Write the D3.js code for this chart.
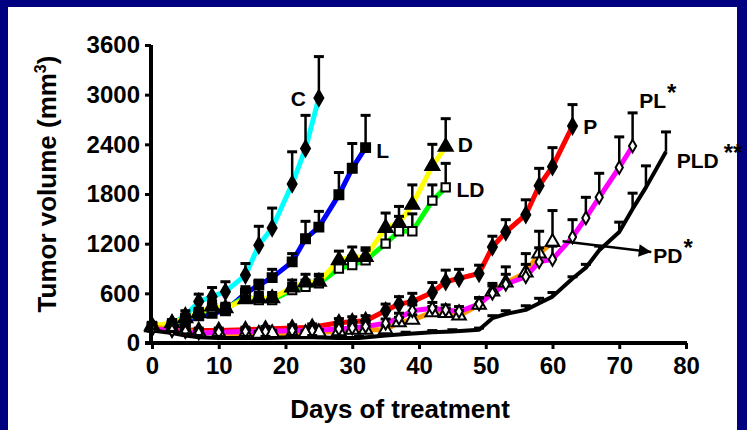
<!DOCTYPE html>
<html>
<head>
<meta charset="utf-8">
<script src="https://cdn.jsdelivr.net/npm/d3@7"></script>
<style>
  html, body { margin: 0; padding: 0; background: #fff; }
  svg { display: block; font-family: Arial, "Liberation Sans", sans-serif; font-weight: bold; }
</style>
</head>
<body>
<div id="chart"></div>
<script>
// tumor growth per treatment group: day, mean volume (mm3), upper SEM
var days_C = [0, 3, 5, 7, 9, 11, 14, 16, 18, 21, 23, 25];
var vol_C  = [200, 230, 330, 500, 560, 620, 820, 1180, 1390, 1920, 2350, 2960];
var err_C  = [40, 50, 60, 90, 110, 120, 140, 230, 240, 390, 400, 500];

var days_L = [0, 3, 5, 7, 9, 11, 14, 16, 18, 21, 23, 25, 28, 30, 32];
var vol_L  = [190, 210, 260, 330, 360, 390, 600, 700, 790, 980, 1260, 1400, 1790, 2110, 2360];
var err_L  = [40, 40, 50, 60, 60, 70, 80, 60, 100, 100, 210, 190, 270, 300, 390];

var days_D = [0, 3, 5, 7, 9, 11, 14, 16, 18, 21, 23, 25, 28, 30, 32, 35, 37, 39, 42, 44];
var vol_D  = [210, 240, 300, 360, 440, 420, 530, 540, 540, 670, 730, 740, 1000, 1040, 1040, 1390, 1450, 1670, 2140, 2370];
var err_D  = [40, 40, 50, 60, 70, 60, 80, 70, 70, 90, 100, 90, 110, 120, 110, 180, 200, 240, 260, 340];

var days_LD = [0, 3, 5, 7, 9, 11, 14, 16, 18, 21, 23, 25, 28, 30, 32, 35, 37, 39, 42, 44];
var vol_LD  = [200, 230, 290, 350, 420, 410, 560, 520, 520, 640, 680, 720, 900, 940, 1000, 1200, 1350, 1350, 1720, 1880];
var err_LD  = [40, 40, 50, 60, 60, 60, 70, 70, 70, 80, 80, 90, 90, 110, 120, 150, 180, 210, 190, 290];

var days_P = [0, 3, 5, 7, 10, 14, 17, 21, 24, 28, 30, 32, 35, 37, 39, 42, 44, 46, 49, 51, 53, 56, 58, 60, 63];
var vol_P  = [180, 170, 160, 150, 150, 160, 170, 180, 190, 245, 257, 270, 390, 470, 500, 610, 740, 780, 840, 1160, 1340, 1550, 1900, 2130, 2620];
var err_P  = [30, 30, 30, 30, 30, 30, 30, 40, 40, 50, 60, 60, 80, 90, 100, 120, 140, 110, 100, 130, 150, 180, 210, 230, 260];

var days_PL = [0, 3, 5, 7, 10, 14, 17, 21, 24, 28, 30, 32, 35, 37, 39, 42, 44, 46, 49, 51, 53, 56, 58, 60, 63, 65, 67, 70, 72];
var vol_PL  = [170, 150, 140, 120, 130, 140, 140, 150, 150, 170, 180, 200, 240, 300, 390, 420, 400, 380, 470, 600, 710, 800, 980, 1010, 1280, 1510, 1760, 2120, 2380];
var err_PL  = [30, 30, 30, 30, 30, 30, 30, 30, 30, 40, 40, 40, 50, 60, 70, 70, 60, 60, 80, 90, 120, 150, 170, 160, 210, 250, 290, 370, 400];

var days_PD = [0, 3, 5, 7, 10, 14, 16, 18, 21, 23, 25, 28, 30, 32, 35, 37, 39, 42, 44, 46, 49, 51, 53, 56, 58, 60];
var vol_PD  = [190, 170, 150, 130, 120, 110, 110, 120, 110, 120, 130, 140, 160, 160, 160, 250, 280, 370, 360, 330, 460, 620, 730, 850, 1080, 1220];
var err_PD  = [30, 30, 30, 30, 30, 30, 30, 30, 30, 30, 30, 40, 40, 40, 50, 60, 60, 70, 60, 60, 80, 100, 190, 230, 270, 380];

var days_PLD = [0, 3, 5, 7, 10, 14, 17, 21, 24, 28, 31, 35, 38, 42, 45, 49, 51, 53, 56, 58, 60, 63, 65, 67, 70, 72, 74, 77];
var vol_PLD  = [150, 120, 90, 70, 60, 60, 60, 70, 70, 60, 60, 90, 110, 130, 140, 160, 300, 350, 400, 480, 560, 780, 910, 1120, 1340, 1620, 1880, 2310];
var err_PLD  = [20, 20, 20, 20, 20, 20, 20, 20, 20, 20, 20, 20, 20, 20, 20, 20, 30, 40, 50, 60, 50, 20, 40, 50, 120, 190, 260, 240];

var xTicks = [0, 10, 20, 30, 40, 50, 60, 70, 80];
var yTicks = [0, 600, 1200, 1800, 2400, 3000, 3600];

function zip(days, vol, err) {
  return days.map(function(d, i) { return {day: d, v: vol[i], e: err[i]}; });
}

// series: data, line colour, marker
var series = [
  {name: "C",  data: zip(days_C, vol_C, err_C),    color: "#00ffff", sym: d3.symbolDiamond, size: 70, fill: "#000"},
  {name: "L",  data: zip(days_L, vol_L, err_L),    color: "#0000ff", sym: d3.symbolSquare,  size: 80, fill: "#000"},
  {name: "LD", data: zip(days_LD, vol_LD, err_LD), color: "#00ff00", sym: d3.symbolSquare,  size: 70, fill: "#fff"},
  {name: "D",  data: zip(days_D, vol_D, err_D),    color: "#ffff00", sym: d3.symbolTriangle, size: 85, fill: "#000"},
  {name: "P",  data: zip(days_P, vol_P, err_P),    color: "#ff0000", sym: d3.symbolDiamond, size: 70, fill: "#000"},
  {name: "PD", data: zip(days_PD, vol_PD, err_PD), color: "#ff9900", sym: d3.symbolTriangle, size: 80, fill: "#fff"},
  {name: "PL", data: zip(days_PL, vol_PL, err_PL), color: "#ff00ff", sym: d3.symbolDiamond, size: 45, fill: "#fff"},
  {name: "PLD", data: zip(days_PLD, vol_PLD, err_PLD), color: "#000000", sym: null, size: 0, fill: "#000"}
];

var width = 747, height = 430;

var svg = d3.select("#chart").append("svg")
  .attr("width", width)
  .attr("height", height);

// navy frame
svg.append("rect").attr("width", width).attr("height", height).attr("fill", "#000080");
svg.append("rect").attr("x", 8).attr("y", 7).attr("width", width - 18).attr("height", height - 7).attr("fill", "#fff");

var x = d3.scaleLinear().domain([0, 80]).range([152, 686]);
var y = d3.scaleLinear().domain([0, 3600]).range([343, 45]);

var line = d3.line()
  .x(function(d) { return x(d.day); })
  .y(function(d) { return y(d.v); });

var plot = svg.append("g");

series.forEach(function(s) {
  plot.append("path")
    .datum(s.data)
    .attr("fill", "none")
    .attr("stroke", s.color)
    .attr("stroke-width", s.name == "PLD" ? 4 : 5)
    .attr("stroke-linejoin", "round")
    .attr("d", line);
});

// error bars (upper only) and markers on top of the lines
series.forEach(function(s) {
  var g = plot.append("g");
  var eb = g.selectAll("g.err").data(s.data).enter().append("g");
  eb.append("line")
    .attr("x1", function(d) { return x(d.day); })
    .attr("x2", function(d) { return x(d.day); })
    .attr("y1", function(d) { return y(d.v); })
    .attr("y2", function(d) { return y(d.v + d.e); })
    .attr("stroke", "#000").attr("stroke-width", 2.5);
  eb.append("line")
    .attr("x1", function(d) { return x(d.day) - 5; })
    .attr("x2", function(d) { return x(d.day) + 5; })
    .attr("y1", function(d) { return y(d.v + d.e); })
    .attr("y2", function(d) { return y(d.v + d.e); })
    .attr("stroke", "#000").attr("stroke-width", 3);
  if (s.sym) {
    g.selectAll("path.m").data(s.data).enter().append("path")
      .attr("transform", function(d) { return "translate(" + x(d.day) + "," + y(d.v) + ")"; })
      .attr("d", d3.symbol().type(s.sym).size(s.size))
      .attr("fill", s.fill)
      .attr("stroke", "#000")
      .attr("stroke-width", 2);
  }
});

// axes
var xAxis = svg.append("g")
  .attr("transform", "translate(0," + 343 + ")")
  .call(d3.axisBottom(x).tickValues(xTicks).tickFormat(d3.format("d")).tickSize(6).tickSizeOuter(0).tickPadding(8));
var yAxis = svg.append("g")
  .attr("transform", "translate(" + 151 + ",0)")
  .call(d3.axisLeft(y).tickValues(yTicks).tickFormat(d3.format("d")).tickSize(6).tickSizeOuter(0).tickPadding(5));

[xAxis, yAxis].forEach(function(a) {
  a.select(".domain").attr("stroke", "#000").attr("stroke-width", 4);
  a.selectAll(".tick line").attr("stroke", "#000").attr("stroke-width", 3);
  a.selectAll(".tick text")
    .attr("fill", "#000")
    .style("font-size", "24px")
    .style("font-weight", "bold")
    .style("font-family", "Arial, 'Liberation Sans', sans-serif");
});
xAxis.select(".domain").attr("d", "M145,0H687");
yAxis.select(".domain").attr("d", "M0,345V45");

// axis titles
svg.append("text")
  .attr("x", 400).attr("y", 418)
  .attr("text-anchor", "middle")
  .style("font-size", "26px")
  .text("Days of treatment");

var yt = svg.append("text")
  .attr("transform", "translate(56,184) rotate(-90)")
  .attr("text-anchor", "middle")
  .style("font-size", "26px");
yt.append("tspan").text("Tumor  volume (mm");
yt.append("tspan").attr("dy", -10).style("font-size", "16px").text("3");
yt.append("tspan").attr("dy", 10).text(")");

// series labels, with superscript asterisks where the figure shows them
var labels = [
  {t: "C",   sup: "",   day: 20.8, v: 2960},
  {t: "L",   sup: "",   day: 33.6, v: 2330},
  {t: "D",   sup: "",   day: 45.8, v: 2400},
  {t: "LD",  sup: "",   day: 45.6, v: 1860},
  {t: "P",   sup: "",   day: 64.6, v: 2620},
  {t: "PL",  sup: "*",  day: 73.0, v: 2940},
  {t: "PLD", sup: "**", day: 78.6, v: 2210},
  {t: "PD",  sup: "*",  day: 75.1, v: 1060}
];
var lt = svg.append("g").selectAll("text").data(labels).enter().append("text")
  .attr("x", function(d) { return x(d.day); })
  .attr("y", function(d) { return y(d.v) + 8; })
  .style("font-size", "21px");
lt.append("tspan").text(function(d) { return d.t; });
lt.append("tspan")
  .attr("dx", function(d) { return d.t == "PLD" ? 5 : 1; })
  .attr("dy", -7)
  .style("font-size", "24px")
  .text(function(d) { return d.sup; });

// PD arrow
svg.append("defs").append("marker")
  .attr("id", "arrow").attr("viewBox", "0 0 10 10")
  .attr("refX", 10).attr("refY", 5)
  .attr("markerWidth", 6).attr("markerHeight", 5)
  .attr("markerUnits", "strokeWidth")
  .attr("orient", "auto")
  .append("path").attr("d", "M0,0L10,5L0,10Z").attr("fill", "#000");
svg.append("line")
  .attr("x1", x(61.5)).attr("y1", y(1230))
  .attr("x2", x(74.8)).attr("y2", y(1100))
  .attr("stroke", "#000").attr("stroke-width", 2.5)
  .attr("marker-end", "url(#arrow)");
</script>
</body>
</html>
